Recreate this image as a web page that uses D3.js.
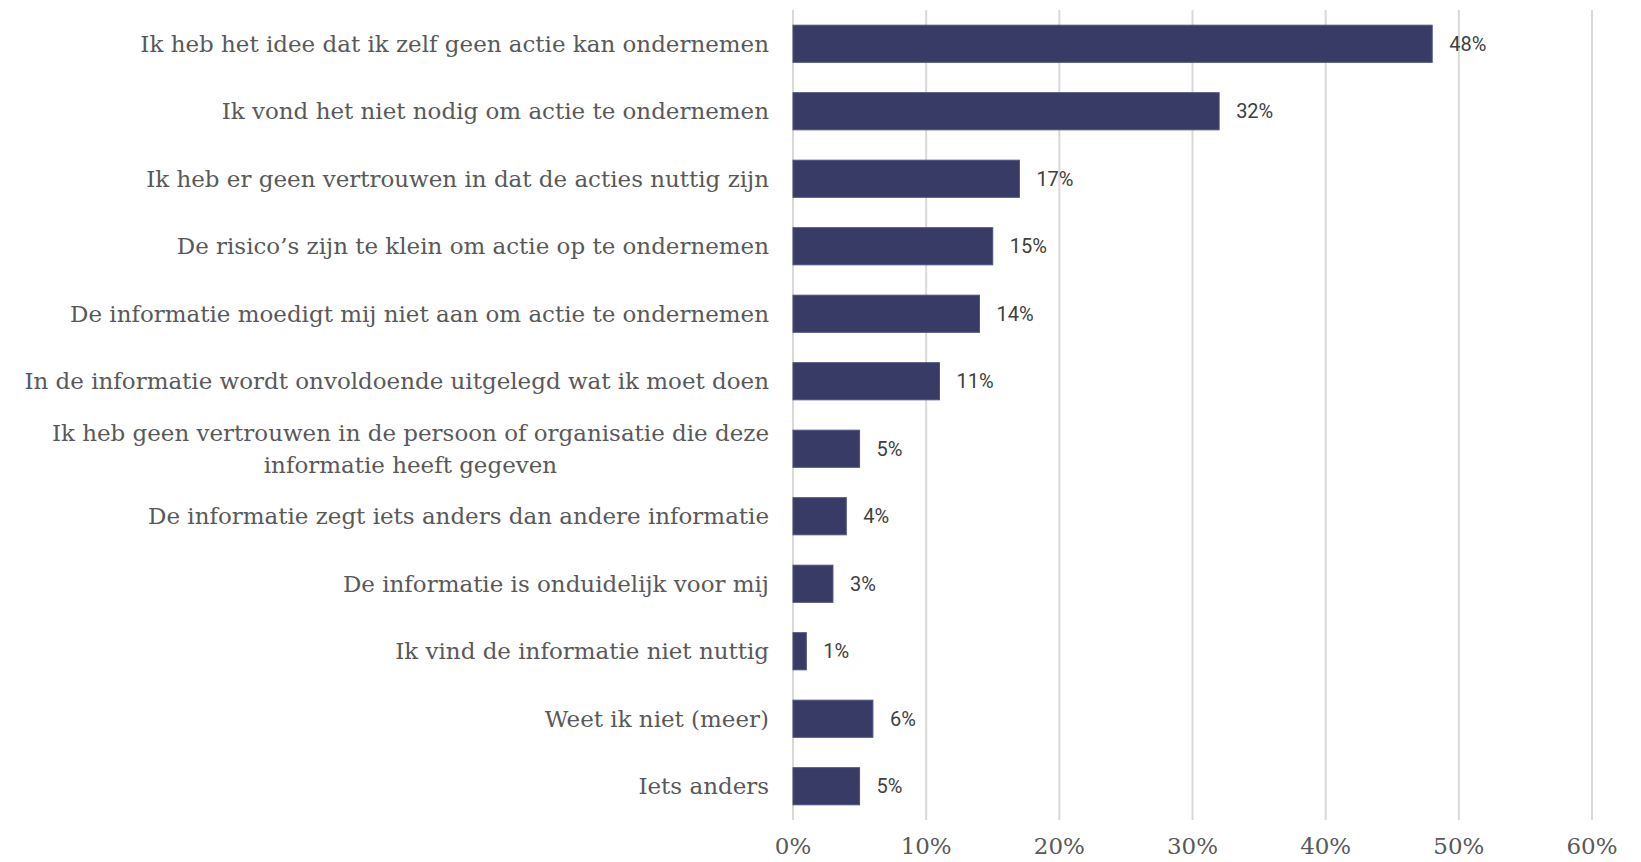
<!DOCTYPE html>
<html>
<head>
<meta charset="utf-8">
<script src="https://cdn.jsdelivr.net/npm/d3@7"></script>
<style>
  html, body { margin: 0; padding: 0; background: #ffffff; }
  svg { display: block; }
</style>
</head>
<body>
<svg id="chart" width="1641" height="862"></svg>
<script>
const categories = [
  ["Ik heb het idee dat ik zelf geen actie kan ondernemen"],
  ["Ik vond het niet nodig om actie te ondernemen"],
  ["Ik heb er geen vertrouwen in dat de acties nuttig zijn"],
  ["De risico\u2019s zijn te klein om actie op te ondernemen"],
  ["De informatie moedigt mij niet aan om actie te ondernemen"],
  ["In de informatie wordt onvoldoende uitgelegd wat ik moet doen"],
  ["Ik heb geen vertrouwen in de persoon of organisatie die deze", "informatie heeft gegeven"],
  ["De informatie zegt iets anders dan andere informatie"],
  ["De informatie is onduidelijk voor mij"],
  ["Ik vind de informatie niet nuttig"],
  ["Weet ik niet (meer)"],
  ["Iets anders"]
];
const values = [48, 32, 17, 15, 14, 11, 5, 4, 3, 1, 6, 5];
const tickValues = [0, 10, 20, 30, 40, 50, 60];
const tickLabels = ["0%", "10%", "20%", "30%", "40%", "50%", "60%"];

const svg = d3.select("#chart");
const x0 = 793, x1 = 1592, yTop = 10, yBot = 820;

const x = d3.scaleLinear().domain([0, 60]).range([x0, x1]);
const y = d3.scaleBand().domain(d3.range(categories.length)).range([yTop, yBot])
  .paddingInner(0.45).paddingOuter(0.225);

const serif = "'DejaVu Serif', 'Liberation Serif', serif";
const labelColor = "#595959";

// gridlines
svg.append("g").selectAll("line").data(tickValues).join("line")
  .attr("x1", d => x(d)).attr("x2", d => x(d))
  .attr("y1", yTop).attr("y2", yBot)
  .attr("stroke", "#d9d9d9").attr("stroke-width", 2);

// bars
svg.append("g").selectAll("rect").data(values).join("rect")
  .attr("x", x(0))
  .attr("y", (d, i) => y(i))
  .attr("width", d => x(d) - x(0))
  .attr("height", y.bandwidth())
  .attr("fill", "#383b66")
  .attr("stroke", "#4d5180").attr("stroke-width", 1);

// value labels
svg.append("g").selectAll("text").data(values).join("text")
  .attr("x", d => x(d) + 17)
  .attr("y", (d, i) => y(i) + y.bandwidth() / 2)
  .attr("dy", "0.35em")
  .attr("font-family", "Roboto, 'Open Sans', sans-serif")
  .attr("font-size", 20)
  .attr("fill", "#404040")
  .text(d => d + "%");

// category labels
const catG = svg.append("g");
const cats = catG.selectAll("text").data(categories).join("text")
  .attr("text-anchor", "end")
  .attr("font-family", serif)
  .attr("font-size", 24)
  .attr("fill", labelColor);
cats.each(function(lines, i) {
  const t = d3.select(this);
  const cy = y(i) + y.bandwidth() / 2;
  const lh = 31.5;
  lines.forEach((ln, k) => {
    t.append("tspan")
      .attr("x", 769)
      .attr("y", cy + (k - (lines.length - 1) / 2) * lh)
      .attr("dy", "0.35em")
      .attr("text-anchor", lines.length > 1 && k === 1 ? "middle" : "end")
      .text(ln);
  });
});
// fit font so longest single line spans target width (745px)
let longest = 0;
catG.selectAll("tspan").each(function() { longest = Math.max(longest, this.getComputedTextLength()); });
const fs = 24 * 745 / longest;
cats.attr("font-size", fs);
// center second line of wrapped label under first line
cats.each(function(lines) {
  if (lines.length > 1) {
    const sp = d3.select(this).selectAll("tspan").nodes();
    const w0 = sp[0].getComputedTextLength();
    d3.select(sp[1]).attr("x", 769 - w0 / 2);
  }
});

// x-axis tick labels
svg.append("g").selectAll("text").data(tickValues).join("text")
  .attr("x", d => x(d))
  .attr("y", 854)
  .attr("text-anchor", "middle")
  .attr("font-family", serif)
  .attr("font-size", fs)
  .attr("fill", labelColor)
  .text((d, i) => tickLabels[i]);
</script>
</body>
</html>
